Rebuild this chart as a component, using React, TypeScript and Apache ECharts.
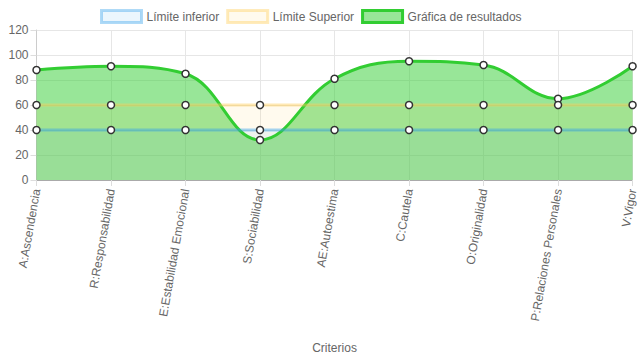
import React, { useEffect, useRef } from "react";
import * as echarts from "echarts";

const categories = [
  "A:Ascendencia",
  "R:Responsabilidad",
  "E:Estabilidad Emocional",
  "S:Sociabilidad",
  "AE:Autoestima",
  "C:Cautela",
  "O:Originalidad",
  "P:Relaciones Personales",
  "V:Vigor",
];
const lowerLimit = [40, 40, 40, 40, 40, 40, 40, 40, 40];
const upperLimit = [60, 60, 60, 60, 60, 60, 60, 60, 60];
const results = [88, 91, 85, 32, 81, 95, 92, 65, 91];
const yTicks = { min: 0, max: 120, interval: 20 };

const FONT = "'Liberation Sans', Arial, Helvetica, sans-serif";

export default function App() {
  const ref = useRef<HTMLDivElement>(null);
  useEffect(() => {
    if (!ref.current) return;
    const chart = echarts.init(ref.current, undefined, { renderer: "svg" });
    const areaSeries = (name: string, data: number[], area: string, z: number) => ({
      name,
      type: "line",
      data,
      smooth: 0.4,
      showSymbol: false,
      symbol: "none",
      z,
      lineStyle: { width: 0, opacity: 0 },
      areaStyle: { color: area, origin: "start", opacity: 1 },
      emphasis: { disabled: true },
      silent: true,
    });
    const lineSeries = (name: string, data: number[], line: string, z: number) => ({
      name,
      type: "line",
      data,
      smooth: 0.4,
      symbol: "circle",
      symbolSize: 7,
      showSymbol: true,
      z,
      lineStyle: { color: line, width: 3 },
      itemStyle: { color: "#fff", borderColor: "#333", borderWidth: 1.5 },
      emphasis: { disabled: true },
    });
    chart.setOption({
      animation: false,
      textStyle: { fontFamily: FONT },
      legend: {
        top: 4,
        left: 95,
        icon: "rect",
        itemWidth: 40,
        itemHeight: 12,
        itemGap: 7,
        textStyle: { color: "#666", fontSize: 12, fontFamily: FONT },
        data: [
          {
            name: "Límite inferior",
            itemStyle: { color: "rgba(54,162,235,0.1)", borderColor: "rgba(54,162,235,0.4)", borderWidth: 3 },
          },
          {
            name: "Límite Superior",
            itemStyle: { color: "rgba(255,205,86,0.1)", borderColor: "rgba(255,205,86,0.4)", borderWidth: 3 },
          },
          {
            name: "Gráfica de resultados",
            itemStyle: { color: "rgba(50,205,50,0.5)", borderColor: "#32cd32", borderWidth: 3 },
          },
        ],
      },
      grid: { left: 36.5, right: 3.5, top: 30, bottom: 180, containLabel: false },
      xAxis: {
        type: "category",
        data: categories,
        boundaryGap: false,
        name: "Criterios",
        nameLocation: "middle",
        nameGap: 162,
        nameTextStyle: { color: "#666", fontSize: 12, fontFamily: FONT },
        axisLine: { show: true, lineStyle: { color: "#aaa" } },
        axisTick: { show: true, length: 6, lineStyle: { color: "#ddd" } },
        splitLine: { show: true, lineStyle: { color: "#e6e6e6" } },
        axisLabel: {
          rotate: 80,
          margin: 9,
          color: "#666",
          fontSize: 12,
          fontFamily: FONT,
          interval: 0,
        },
      },
      yAxis: {
        type: "value",
        min: yTicks.min,
        max: yTicks.max,
        interval: yTicks.interval,
        axisLine: { show: true, lineStyle: { color: "#ccc" } },
        axisTick: { show: true, length: 6, lineStyle: { color: "#ddd" } },
        splitLine: { show: true, lineStyle: { color: "#e6e6e6" } },
        axisLabel: { color: "#666", fontSize: 12, fontFamily: FONT, margin: 8 },
      },
      series: [
        areaSeries("Gráfica de resultados", results, "rgba(50,205,50,0.5)", 1),
        areaSeries("Límite Superior", upperLimit, "rgba(255,205,86,0.1)", 1),
        areaSeries("Límite inferior", lowerLimit, "rgba(54,162,235,0.08)", 1),
        lineSeries("Gráfica de resultados", results, "#32cd32", 3),
        lineSeries("Límite Superior", upperLimit, "rgba(255,205,86,0.45)", 4),
        lineSeries("Límite inferior", lowerLimit, "rgba(54,162,235,0.45)", 5),
      ],
    });
    return () => chart.dispose();
  }, []);
  return <div ref={ref} style={{ width: 639, height: 360, position: "absolute", left: 0, top: 0 }} />;
}
